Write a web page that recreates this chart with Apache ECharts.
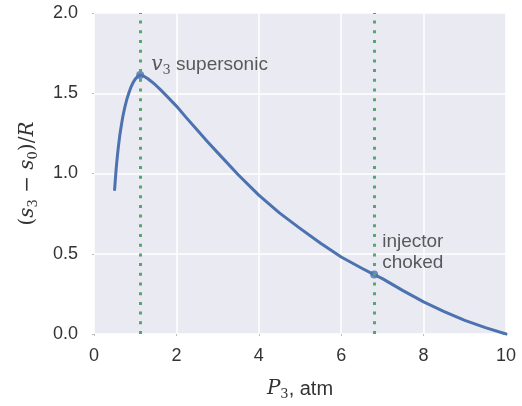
<!DOCTYPE html>
<html>
<head>
<meta charset="utf-8">
<script src="https://cdn.jsdelivr.net/npm/echarts@6/dist/echarts.min.js"></script>
<style>html,body{margin:0;padding:0;background:#fff}#c{width:522px;height:406px}</style>
</head>
<body>
<div id="c"></div>
<script>
const pressure = [0.5, 0.52, 0.54, 0.56, 0.58, 0.6, 0.63, 0.66, 0.7, 0.75, 0.8, 0.85, 0.9, 0.95, 1.0, 1.06, 1.12, 1.2, 1.3, 1.4, 1.5, 1.6, 1.75, 2.0, 2.25, 2.5, 2.75, 3.0, 3.5, 4.0, 4.5, 5.0, 5.5, 6.0, 6.5, 6.8, 7.0, 7.5, 8.0, 8.5, 9.0, 9.5, 10.0];
const entropy  = [0.90, 0.97, 1.035, 1.09, 1.14, 1.185, 1.245, 1.295, 1.355, 1.415, 1.465, 1.505, 1.54, 1.567, 1.588, 1.605, 1.613, 1.608, 1.592, 1.572, 1.55, 1.526, 1.487, 1.42, 1.345, 1.272, 1.2, 1.13, 0.992, 0.865, 0.755, 0.658, 0.565, 0.48, 0.41, 0.37, 0.345, 0.27, 0.20, 0.14, 0.085, 0.04, 0.0];
const markX = [1.12, 6.8];
const markY = [1.613, 0.37];
const markText = ['{m|v}{ms|3}{t| supersonic}', 'injector\nchoked'];
const xTicks = [0, 2, 4, 6, 8, 10];
const yTicks = [0.0, 0.5, 1.0, 1.5, 2.0];

const chart = echarts.init(document.getElementById('c'));
const txt = '#333333';
const sans = 'Liberation Sans, Arial, sans-serif';
const serif = 'DejaVu Serif, serif';
const mathRich = {
  i: {fontFamily: serif, fontStyle: 'italic', fontSize: 20, color: txt, verticalAlign: 'middle'},
  s: {fontFamily: serif, fontSize: 13, color: txt, verticalAlign: 'bottom', padding: [11, 0, 0, 0]},
  n: {fontFamily: sans, fontSize: 20, color: txt, verticalAlign: 'middle'}
};
chart.setOption({
  animation: false,
  grid: {left: 94, right: 16, top: 13, bottom: 72, show: true, backgroundColor: '#EAEAF2', borderWidth: 0},
  xAxis: {
    type: 'value', min: xTicks[0], max: xTicks[xTicks.length-1], interval: 2,
    axisLine: {show: false},
    axisTick: {show: true, length: 2, lineStyle: {color: '#bbbbbb', width: 1}},
    splitLine: {lineStyle: {color: '#ffffff', width: 1.5}},
    axisLabel: {color: txt, fontSize: 18, fontFamily: sans, margin: 13},
    name: '{i|P}{s|3}{n|, atm}', nameLocation: 'middle', nameGap: 43,
    nameTextStyle: {rich: mathRich}
  },
  yAxis: {
    type: 'value', min: yTicks[0], max: yTicks[yTicks.length-1], interval: 0.5,
    axisLine: {show: false},
    axisTick: {show: true, length: 2, lineStyle: {color: '#bbbbbb', width: 1}},
    splitLine: {lineStyle: {color: '#ffffff', width: 1.5}},
    axisLabel: {color: txt, fontSize: 18, fontFamily: sans, margin: 16, formatter: v => v.toFixed(1)},
    name: '{n|(}{i|s}{s|3}{n| − }{i|s}{s|0}{n|)/}{i|R}', nameLocation: 'middle', nameGap: 54, nameRotate: 90,
    nameTextStyle: {rich: {
      i: mathRich.i, s: mathRich.s,
      n: {fontFamily: serif, fontSize: 20, color: txt, verticalAlign: 'middle'}
    }}
  },
  series: [
    {
      type: 'line', data: pressure.map((p, i) => [p, entropy[i]]),
      showSymbol: false, smooth: false,
      lineStyle: {color: '#4C72B0', width: 3, join: 'round', cap: 'round'}, itemStyle: {color: '#4C72B0'},
      markLine: {
        silent: true, symbol: 'none', label: {show: false},
        lineStyle: {color: '#55A868', width: 3, type: [3, 6.7], cap: 'butt'},
        data: markX.map(x => ({xAxis: x}))
      }
    },
    {
      type: 'scatter', symbolSize: 8, itemStyle: {color: '#4C72B0'},
      data: markX.map((x, i) => ({
        value: [x, markY[i]],
        label: i === 0
          ? {show: true, position: [15, -18], formatter: markText[i], rich: {
              m: {fontFamily: serif, fontStyle: 'italic', fontSize: 20, color: txt, verticalAlign: 'middle'},
              ms: {fontFamily: serif, fontSize: 13, color: txt, verticalAlign: 'bottom', padding: [11, 0, 0, 0]},
              t: {fontFamily: sans, fontSize: 19, color: txt, verticalAlign: 'middle'}}}
          : {show: true, position: [12, -39], formatter: markText[i], color: txt, fontSize: 19, fontFamily: sans, lineHeight: 21}
      }))
    }
  ]
});
</script>
</body>
</html>
